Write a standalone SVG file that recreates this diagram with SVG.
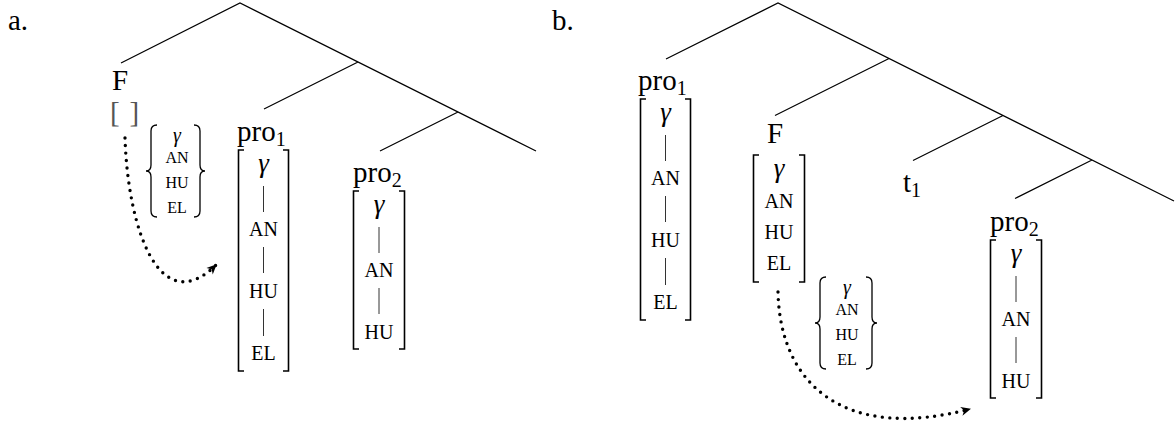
<svg xmlns="http://www.w3.org/2000/svg" width="1176" height="427" viewBox="0 0 1176 427">
<style>
.t{font-family:"Liberation Serif","Times New Roman",serif;fill:#000}
.lab{font-size:29px}
.sub{font-size:20px}
.sc{font-size:20px;text-anchor:middle}
.scs{font-size:16px;text-anchor:middle}
.g{font-style:italic;font-size:27px;text-anchor:middle}
.gs{font-style:italic;font-size:20px;text-anchor:middle}
.tree{stroke:#000;stroke-width:1.2;fill:none}
.br{stroke:#000;stroke-width:1.6;fill:none}
.brc{stroke:#000;stroke-width:1.3;fill:none}
.bar{stroke:#333;stroke-width:1}
.dot{stroke:#000;stroke-width:3.4;stroke-linecap:round;stroke-dasharray:0 7.5;fill:none}
</style>
<defs>
<marker id="ah" viewBox="-11 -6 13 12" refX="0" refY="0" markerWidth="13" markerHeight="12" markerUnits="userSpaceOnUse" orient="auto">
<path d="M1,0 L-9,-4.5 L-6,0 L-9,4.5 Z" fill="#000"/>
</marker>
</defs>
<rect width="1176" height="427" fill="#fff"/>

<text class="t lab" x="8" y="30">a.</text>
<text class="t lab" x="552" y="30">b.</text>

<g id="connectors">
<path class="tree" d="M121,63 L240,3 L536,151 M358,62 L264,109 M458,112 L380,151"/>
<path class="tree" d="M666,59 L778,3 L1174,201 M889,58.5 L775,115.5 M1003,115.5 L913,160.5 M1092,160 L1015,198.5"/>
<path class="dot" d="M125,138 C128,230 160,320 216,265" marker-end="url(#ah)"/>
<path class="dot" d="M778,292 C780,385 845,442 970,409" marker-end="url(#ah)"/>
</g>

<g id="a-F">
<text class="t lab" x="112" y="90">F</text>
<text class="t lab" y="122" style="fill:#555"><tspan x="110">[</tspan><tspan x="129.5">]</tspan></text>
</g>

<g id="a-set">
<path class="brc" d="M157,125 Q151,125 151,131 V165 Q151,171 146,171 Q151,171 151,177 V211 Q151,217 157,217"/>
<path class="brc" d="M194,125 Q200,125 200,131 V165 Q200,171 205,171 Q200,171 200,177 V211 Q200,217 194,217"/>
<text class="t gs" x="177" y="142">γ</text>
<text class="t scs" x="177" y="163">AN</text>
<text class="t scs" x="177" y="188">HU</text>
<text class="t scs" x="177" y="213">EL</text>
</g>

<g id="a-pro1">
<text class="t lab" x="237" y="141">pro<tspan class="sub" dy="5">1</tspan></text>
<path class="br" d="M244,150 H238.5 V371 H244 M283,150 H288.5 V371 H283"/>
<text class="t g" x="263.5" y="172">γ</text>
<line class="bar" x1="263.5" y1="186" x2="263.5" y2="212"/>
<text class="t sc" x="263.5" y="236">AN</text>
<line class="bar" x1="263.5" y1="247" x2="263.5" y2="273"/>
<text class="t sc" x="263.5" y="298">HU</text>
<line class="bar" x1="263.5" y1="309" x2="263.5" y2="336"/>
<text class="t sc" x="263.5" y="360">EL</text>
</g>

<g id="a-pro2">
<text class="t lab" x="353" y="182">pro<tspan class="sub" dy="5">2</tspan></text>
<path class="br" d="M359,191 H353.5 V349 H359 M399,191 H404.5 V349 H399"/>
<text class="t g" x="379" y="213">γ</text>
<line class="bar" x1="379" y1="227" x2="379" y2="253"/>
<text class="t sc" x="379" y="277">AN</text>
<line class="bar" x1="379" y1="288" x2="379" y2="314"/>
<text class="t sc" x="379" y="339">HU</text>
</g>

<g id="b-pro1">
<text class="t lab" x="638" y="90">pro<tspan class="sub" dy="5">1</tspan></text>
<path class="br" d="M646,99 H640.5 V320 H646 M685,99 H690.5 V320 H685"/>
<text class="t g" x="665.5" y="121">γ</text>
<line class="bar" x1="665.5" y1="135" x2="665.5" y2="161"/>
<text class="t sc" x="665.5" y="185">AN</text>
<line class="bar" x1="665.5" y1="196" x2="665.5" y2="222"/>
<text class="t sc" x="665.5" y="247">HU</text>
<line class="bar" x1="665.5" y1="258" x2="665.5" y2="285"/>
<text class="t sc" x="665.5" y="309">EL</text>
</g>

<g id="b-F">
<text class="t lab" x="767" y="143">F</text>
<path class="br" d="M759,155 H753.5 V282 H759 M799,155 H804.5 V282 H799"/>
<text class="t g" x="779" y="177">γ</text>
<text class="t sc" x="779" y="208">AN</text>
<text class="t sc" x="779" y="239">HU</text>
<text class="t sc" x="779" y="270">EL</text>
</g>

<g id="b-set">
<path class="brc" d="M826,277 Q820,277 820,283 V317 Q820,323 815,323 Q820,323 820,329 V363 Q820,369 826,369"/>
<path class="brc" d="M866,277 Q872,277 872,283 V317 Q872,323 877,323 Q872,323 872,329 V363 Q872,369 866,369"/>
<text class="t gs" x="847" y="294">γ</text>
<text class="t scs" x="847" y="315">AN</text>
<text class="t scs" x="847" y="340">HU</text>
<text class="t scs" x="847" y="365">EL</text>
</g>

<g id="b-t1">
<text class="t lab" x="903" y="192">t<tspan class="sub" dy="5">1</tspan></text>
</g>

<g id="b-pro2">
<text class="t lab" x="990" y="231">pro<tspan class="sub" dy="5">2</tspan></text>
<path class="br" d="M996,240 H990.5 V398 H996 M1036,240 H1041.5 V398 H1036"/>
<text class="t g" x="1016" y="262">γ</text>
<line class="bar" x1="1016" y1="276" x2="1016" y2="302"/>
<text class="t sc" x="1016" y="326">AN</text>
<line class="bar" x1="1016" y1="337" x2="1016" y2="363"/>
<text class="t sc" x="1016" y="388">HU</text>
</g>
</svg>
